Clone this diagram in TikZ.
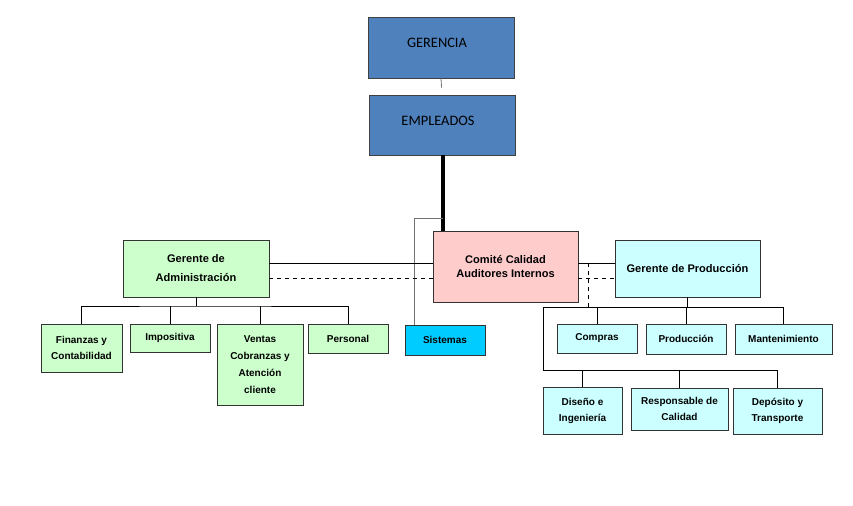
\documentclass[tikz,border=0pt]{standalone}
\usepackage{fontspec}
\setmainfont{Liberation Sans}
\newfontfamily\calfont{Carlito}
\usepackage{tikz}
\definecolor{azul}{HTML}{4F81BD}
\definecolor{rosa}{HTML}{FFCCCC}
\definecolor{verde}{HTML}{CCFFCC}
\definecolor{celeste}{HTML}{CCFFFF}
\definecolor{cian}{HTML}{00CCFF}
\tikzset{
  caja/.style={draw=black!80, line width=0.6pt, inner sep=0pt, align=center,
    font=\bfseries\fontsize{7.5}{12}\selectfont},
  gerente/.style={caja, font=\bfseries\fontsize{8.3}{10.5}\selectfont},
  jefe/.style={draw=black!75, line width=0.7pt, fill=azul, inner sep=0pt, text depth=7pt,
    font=\calfont\fontsize{10.8}{12}\selectfont},
  linea/.style={line width=0.6pt},
}

\begin{document}
\begin{tikzpicture}[x=0.75pt,y=-0.75pt]
        \useasboundingbox (0,0) rectangle (853,506);
        % cabecera
        \node[jefe, minimum width=109.5pt, minimum height=45.75pt] (ger) at (441,47.5) {\hspace*{-6pt}GERENCIA};
        \node[jefe, minimum width=109.5pt, minimum height=45pt] (emp) at (442,125) {\hspace*{-6pt}EMPLEADOS};
        \node[gerente, fill=rosa, minimum width=108.75pt, minimum height=53.25pt] (com) at (505.5,266.5) {Comité Calidad\\Auditores Internos};
        \node[caja, fill=cian, minimum width=60pt, minimum height=22.5pt] (sis) at (445,340) {Sistemas};
        % administracion
        \node[gerente, fill=verde, minimum width=109.5pt, minimum height=42.75pt,
              font=\bfseries\fontsize{8.3}{14.25}\selectfont] (adm) at (196,268.5) {Gerente de\\Administración};
        \node[caja, fill=verde, minimum width=60.75pt, minimum height=36pt] (fin) at (81.5,348) {Finanzas y\\Contabilidad};
        \node[caja, fill=verde, minimum width=60pt, minimum height=21pt] (imp) at (170,338) {Impositiva};
        \node[caja, fill=verde, minimum width=64.5pt, minimum height=60.75pt,
              font=\bfseries\fontsize{7.5}{12.75}\selectfont] (ven) at (260,364.5) {Ventas\\Cobranzas y\\Atención\\cliente};
        \node[caja, fill=verde, minimum width=60pt, minimum height=21.75pt] (per) at (348,338.5) {Personal};
        % produccion
        \node[gerente, fill=celeste, minimum width=108.75pt, minimum height=42.75pt] (prd) at (687.5,268.5) {Gerente de Producción};
        \node[caja, fill=celeste, minimum width=60pt, minimum height=21.75pt] (cmp) at (597,338.5) {Compras};
        \node[caja, fill=celeste, minimum width=60pt, minimum height=22.5pt] (pro) at (686,339) {Producción};
        \node[caja, fill=celeste, minimum width=72.75pt, minimum height=22.5pt] (man) at (783.5,339) {Mantenimiento};
        \node[caja, fill=celeste, minimum width=59.25pt, minimum height=35.25pt] (dis) at (582.5,410.5) {Diseño e\\Ingeniería};
        \node[caja, fill=celeste, minimum width=72.75pt, minimum height=31.5pt] (res) at (679.5,409) {Responsable de\\Calidad};
        \node[caja, fill=celeste, minimum width=66.75pt, minimum height=34.5pt] (dep) at (777.5,411) {Depósito y\\Transporte};

        \coordinate (sisjoin) at (443,218);
        \coordinate (admbus) at (196,306);
        \coordinate (pbus) at (543,307);
        \coordinate (pbus2) at (543,370);
        \coordinate (pdash) at (588,263);

        \draw[linea, black!55, shorten >=5.25pt] (ger.south) -- (emp.north);
        \draw[line width=3pt] (emp.south -| sisjoin) -- (com.north -| sisjoin);
        \draw[linea, black!55] (sisjoin) -| ([xshift=7.5pt]sis.north west);

        \draw[linea] (adm.east |- 0,263) -- (com.west |- 0,263);
        \draw[linea, dashed] (adm.east |- 0,278) -- (com.west |- 0,278);
        \draw[linea] (com.east |- 0,263) -- (prd.west |- 0,263);
        \draw[linea, dashed] (com.east |- 0,278) -- (prd.west |- 0,278);
        \draw[linea, dashed] (pdash) -- (pdash |- pbus);

        \draw[linea] (adm.south) -- (admbus);
        \draw[linea] (fin.north) |- (admbus) -| (per.north);
        \draw[linea] (imp.north) -- (imp.north |- admbus);
        \draw[linea] (ven.north) -- (ven.north |- admbus);

        \draw[linea] (prd.south) -- (prd.south |- pbus);
        \draw[linea] (pbus2) |- (pbus) -| (man.north);
        \draw[linea] (cmp.north) -- (cmp.north |- pbus);
        \draw[linea] (pro.north) -- (pro.north |- pbus);
        \draw[linea] (pbus2) -| (dep.north);
        \draw[linea] (dis.north) -- (dis.north |- pbus2);
        \draw[linea] (res.north) -- (res.north |- pbus2);
    \end{tikzpicture}
\end{document}
